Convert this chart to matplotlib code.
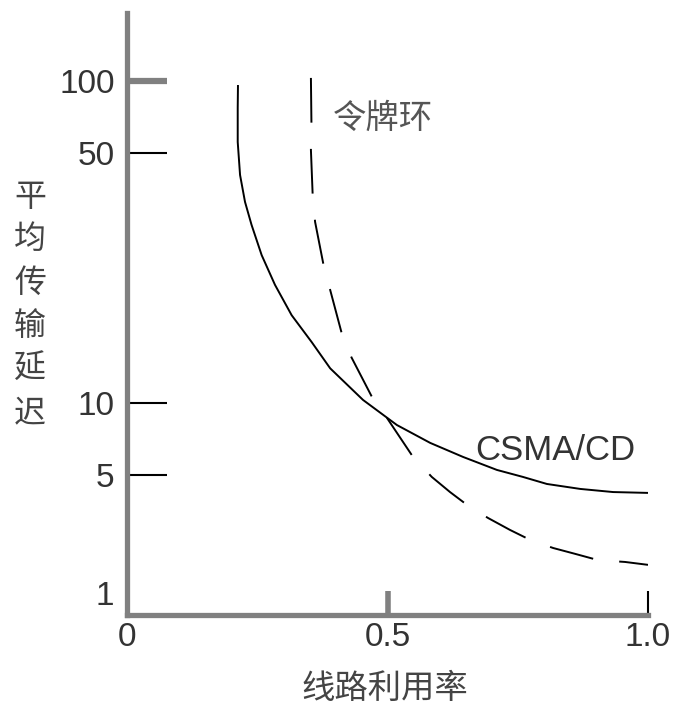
import matplotlib
matplotlib.use('Agg')
import matplotlib.pyplot as plt
import numpy as np

plt.rcParams['font.family'] = ['Liberation Sans', 'Noto Sans CJK SC', 'DejaVu Sans']

# datos (utilizacion, retardo medio)
csma_x = [0.213, 0.2125, 0.2125, 0.217, 0.2265, 0.239, 0.2585, 0.284, 0.316, 0.3545,
          0.390, 0.453, 0.518, 0.582, 0.645, 0.710, 0.760, 0.806, 0.870, 0.933, 1.0]
csma_y = [96.2, 77.1, 55.6, 43.4, 36.5, 31.5, 25.9, 21.4, 17.6, 14.8,
          12.5, 10.2, 8.09, 6.81, 5.95, 5.25, 4.89, 4.51, 4.26, 4.11, 4.07]

token_x = [0.353, 0.354, 0.353, 0.3564, 0.361, 0.378, 0.390, 0.414, 0.431, 0.4716,
           0.499, 0.549, 0.585, 0.620, 0.653, 0.693, 0.735, 0.774, 0.818, 0.860,
           0.904, 0.956, 1.0]
token_y = [103, 66.7, 51.5, 38.1, 32.1, 24.0, 20.7, 15.3, 13.4, 10.3,
           8.66, 5.95, 4.89, 4.11, 3.54, 3.05, 2.66, 2.37, 2.16, 2.02,
           1.88, 1.84, 1.78]

y_ticks = [1, 5, 10, 50, 100]
y_labels = ['', '5', '10', '50', '100']
x_ticks = [0, 0.5, 1.0]
x_labels = ['0', '0.5', '1.0']

# eje y esquematico (no es log real): posicion relativa de cada marca
LOG_KNOTS = np.log10([1, 5, 10, 50, 100, 316.2])
POS_KNOTS = np.array([0, 140, 212, 462, 534, 653.6])


def forward(v):
    v = np.clip(np.asarray(v, dtype=float), 1e-6, None)
    return np.interp(np.log10(v), LOG_KNOTS, POS_KNOTS)


def inverse(p):
    return 10 ** np.interp(p, POS_KNOTS, LOG_KNOTS)


GRIS = '#808080'
TEXTO = '#333333'

fig = plt.figure(figsize=(6.81, 7.11), dpi=100)
ax = fig.add_axes([127 / 681, 96 / 711, 521 / 681, 602 / 711])
ax.set_yscale('function', functions=(forward, inverse))

ax.plot(csma_x, csma_y, color='black', lw=1.4, solid_capstyle='butt', solid_joinstyle='round')
ax.plot(token_x, token_y, color='black', lw=1.4, dashes=(23, 13.5), dash_capstyle='butt')

ax.set_xlim(0, 1.0)
ax.set_ylim(1, float(inverse(602)))

for s in ['top', 'right']:
    ax.spines[s].set_visible(False)
for s in ['left', 'bottom']:
    ax.spines[s].set_color(GRIS)
    ax.spines[s].set_linewidth(3.8)

ax.set_yticks(y_ticks)
ax.set_yticklabels(y_labels)
ax.set_xticks(x_ticks)
ax.set_xticklabels(x_labels)
ax.minorticks_off()
ax.tick_params(axis='y', direction='in', length=28.8, width=1.5, color='black',
               labelsize=24, labelcolor=TEXTO, pad=9)
ax.tick_params(axis='x', direction='in', length=17, width=1.5, color='black',
               labelsize=24, labelcolor=TEXTO, pad=5)

yt = ax.yaxis.get_major_ticks()
yt[0].tick1line.set_visible(False)
yt[4].tick1line.set_markeredgecolor(GRIS)
yt[4].tick1line.set_markeredgewidth(4.5)
xt = ax.xaxis.get_major_ticks()
xt[0].tick1line.set_visible(False)
xt[1].tick1line.set_markeredgecolor(GRIS)
xt[1].tick1line.set_markeredgewidth(4)
xt[2].tick1line.set_clip_on(False)

ax.annotate('1', xy=(0, 1), xytext=(-9, 13), textcoords='offset points',
            ha='right', va='center', fontsize=24, color=TEXTO, annotation_clip=False)

# etiquetas de las curvas
ax.text(0.395, 70, '令牌环', fontsize=24, color='#555555', ha='left', va='center',
        family=['Noto Sans CJK SC'])
ax.text(0.668, 5.78, 'CSMA/CD', fontsize=25, color=TEXTO, ha='left', va='baseline')

# titulo del eje y en vertical, un caracter por linea
centros = [197, 239, 283, 326, 368, 413]
for ch, cy in zip('平均传输延迟', centros):
    fig.text(30 / 681, 1 - cy / 711, ch, fontsize=23, color='#444444',
             ha='center', va='center', family=['Noto Sans CJK SC'])

fig.text(385 / 681, 1 - 688 / 711, '线路利用率', fontsize=24, color='#444444',
         ha='center', va='center', family=['Noto Sans CJK SC'])

fig.savefig('out.png', dpi=100)
